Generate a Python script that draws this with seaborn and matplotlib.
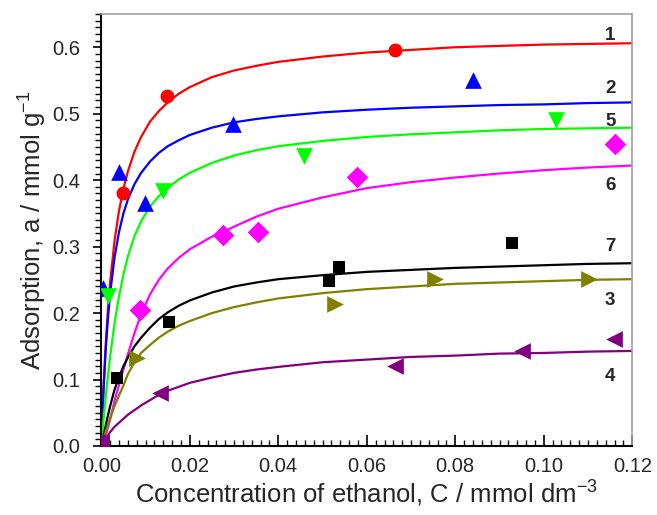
import numpy as np
import pandas as pd
import matplotlib
matplotlib.use("Agg")
import matplotlib.pyplot as plt
from matplotlib.ticker import MultipleLocator, FormatStrFormatter
import seaborn as sns

# ---------------- data ----------------
# measured points
red_x = [0.0049, 0.0149, 0.0663]
red_y = [0.380, 0.526, 0.596]
blue_x = [0.0003, 0.0041, 0.0099, 0.0298, 0.0839]
blue_y = [0.238, 0.413, 0.365, 0.485, 0.550]
green_x = [0.0014, 0.0140, 0.0457, 0.1027]
green_y = [0.225, 0.383, 0.436, 0.491]
magenta_x = [0.0087, 0.0274, 0.0355, 0.0578, 0.1161]
magenta_y = [0.205, 0.317, 0.322, 0.404, 0.454]
black_x = [0.0035, 0.0153, 0.0515, 0.0538, 0.0928]
black_y = [0.102, 0.186, 0.248, 0.270, 0.305]
olive_x = [0.0080, 0.0527, 0.0754, 0.1103]
olive_y = [0.132, 0.213, 0.252, 0.251]
purple_x = [0.0133, 0.0664, 0.0951, 0.1158]
purple_y = [0.079, 0.120, 0.143, 0.161]
origin_x = [0.0005]
origin_y = [0.008]

# fitted curves
curve_x = [0, 0.0005, 0.001, 0.0015, 0.002, 0.003, 0.004, 0.005, 0.006,
           0.0075, 0.009, 0.011, 0.013, 0.015, 0.0175, 0.02, 0.025, 0.03,
           0.035, 0.04, 0.05, 0.06, 0.07, 0.08, 0.09, 0.10, 0.11, 0.12]
red_cy = [0, 0.088, 0.154, 0.206, 0.247, 0.309, 0.354, 0.387, 0.413,
          0.443, 0.465, 0.488, 0.504, 0.517, 0.530, 0.540, 0.555, 0.565,
          0.572, 0.578, 0.586, 0.592, 0.596, 0.600, 0.602, 0.604, 0.605,
          0.606]
blue_cy = [0, 0.085, 0.145, 0.192, 0.230, 0.284, 0.322, 0.350, 0.371,
           0.394, 0.411, 0.428, 0.441, 0.451, 0.460, 0.468, 0.479, 0.487,
           0.492, 0.496, 0.502, 0.506, 0.509, 0.511, 0.513, 0.514, 0.516,
           0.517]
green_cy = [0, 0.040, 0.075, 0.105, 0.135, 0.185, 0.225, 0.258, 0.285,
            0.316, 0.338, 0.360, 0.376, 0.388, 0.401, 0.411, 0.426, 0.437,
            0.445, 0.451, 0.459, 0.465, 0.469, 0.472, 0.475, 0.477, 0.478,
            0.479]
magenta_cy = [0, 0.008, 0.016, 0.028, 0.040, 0.068, 0.092, 0.115, 0.138,
              0.170, 0.198, 0.228, 0.250, 0.267, 0.283, 0.296, 0.315, 0.330,
              0.345, 0.357, 0.374, 0.388, 0.397, 0.404, 0.410, 0.415, 0.419,
              0.422]
black_cy = [0, 0.015, 0.031, 0.046, 0.060, 0.085, 0.104, 0.120, 0.133,
            0.150, 0.163, 0.178, 0.191, 0.201, 0.211, 0.219, 0.231, 0.240,
            0.246, 0.251, 0.257, 0.262, 0.265, 0.268, 0.270, 0.272, 0.274,
            0.275]
olive_cy = [0, 0.011, 0.022, 0.032, 0.042, 0.060, 0.076, 0.091, 0.108,
            0.126, 0.140, 0.152, 0.163, 0.172, 0.181, 0.188, 0.200, 0.209,
            0.216, 0.222, 0.230, 0.236, 0.240, 0.244, 0.246, 0.248, 0.250,
            0.251]
purple_cy = [0, 0.005, 0.011, 0.016, 0.021, 0.029, 0.035, 0.041, 0.047,
             0.054, 0.061, 0.069, 0.077, 0.083, 0.089, 0.095, 0.103, 0.110,
             0.115, 0.119, 0.126, 0.130, 0.134, 0.136, 0.139, 0.140, 0.142,
             0.143]

curve_labels = ["1", "2", "5", "6", "7", "3", "4"]
curve_label_y = [0.618, 0.538, 0.489, 0.392, 0.300, 0.219, 0.104]

x_ticks = [0.00, 0.02, 0.04, 0.06, 0.08, 0.10, 0.12]
y_ticks = [0.0, 0.1, 0.2, 0.3, 0.4, 0.5, 0.6]

# ---------------- style ----------------
sns.set_style("white")
plt.rcParams["font.family"] = ["Liberation Sans", "DejaVu Sans"]
plt.rcParams["mathtext.fontset"] = "custom"
plt.rcParams["mathtext.rm"] = "Liberation Sans"

fig = plt.figure(figsize=(6.57, 5.15), dpi=100)
ax = fig.add_axes([0.1542, 0.134, 0.8082, 0.8388])

series = [
    (red_x, red_y, red_cy, "#FF0000", "o", 10),
    (blue_x, blue_y, blue_cy, "#0000FF", "^", 12),
    (green_x, green_y, green_cy, "#00FF00", "v", 12),
    (magenta_x, magenta_y, magenta_cy, "#FF00FF", "D", 11),
    (black_x, black_y, black_cy, "#000000", "s", 8.5),
    (olive_x, olive_y, olive_cy, "#808000", ">", 12),
    (purple_x, purple_y, purple_cy, "#800080", "<", 12),
]

for px, py, cy, col, mk, ms in series:
    sns.lineplot(x=curve_x, y=cy, color=col, linewidth=1.6, ax=ax,
                 estimator=None, sort=False, zorder=2)
for px, py, cy, col, mk, ms in series:
    sns.scatterplot(x=px, y=py, color=col, marker=mk, s=ms ** 2,
                    edgecolor=col, linewidth=0, ax=ax, zorder=3)
sns.scatterplot(x=origin_x, y=origin_y, color="#800080", marker="s", s=81,
                edgecolor="#800080", linewidth=0, ax=ax, zorder=3)

for lab, ly in zip(curve_labels, curve_label_y):
    ax.text(0.1150, ly, lab, fontsize=13.5, fontweight="bold",
            ha="center", va="center")

ax.set_xlim(0, 0.12)
ax.set_ylim(0, 0.65)
ax.set_xticks(x_ticks)
ax.set_yticks(y_ticks)
ax.xaxis.set_major_formatter(FormatStrFormatter("%.2f"))
ax.yaxis.set_major_formatter(FormatStrFormatter("%.1f"))
ax.xaxis.set_minor_locator(MultipleLocator(0.002))
ax.yaxis.set_minor_locator(MultipleLocator(0.01))
ax.tick_params(axis="x", which="both", direction="in", bottom=True, top=False,
               labelsize=14.5, pad=8, color="black")
ax.tick_params(axis="x", which="major", length=8, width=1.2)
ax.tick_params(axis="x", which="minor", length=4, width=1.0)
ax.tick_params(axis="y", which="both", direction="out", left=True, right=False,
               labelsize=14.5, pad=9, color="black")
ax.tick_params(axis="y", which="major", length=6, width=1.2)
ax.tick_params(axis="y", which="minor", length=4, width=1.0)

for side in ["left", "bottom"]:
    ax.spines[side].set_color("black")
    ax.spines[side].set_linewidth(1.5)
for side in ["top", "right"]:
    ax.spines[side].set_color("#A0A0A0")
    ax.spines[side].set_linewidth(1.2)

ax.set_xlabel("Concentration of ethanol, C / mmol dm$^{-3}$", fontsize=18.5,
              labelpad=1)
ax.set_ylabel("Adsorption, a / mmol g$^{-1}$", fontsize=18.5, labelpad=3)
ax.grid(False)

fig.savefig("out.png", dpi=100)
